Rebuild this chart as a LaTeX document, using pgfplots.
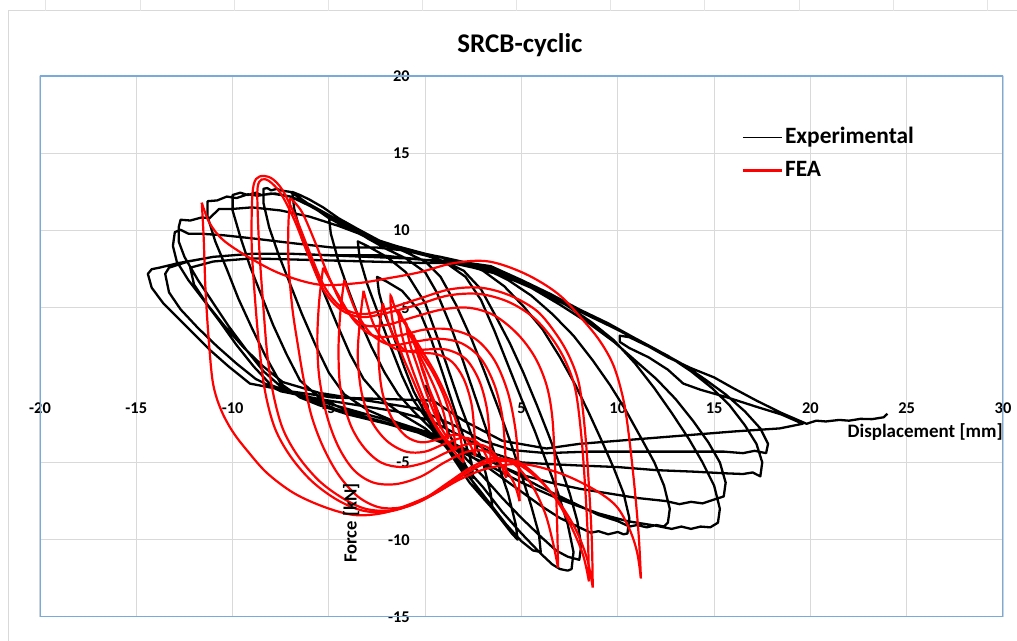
\documentclass[border=0pt]{standalone}
\usepackage{fontspec}
\setmainfont{Carlito}
\usepackage{pgfplots}
\pgfplotsset{compat=1.18}
\definecolor{gridgray}{RGB}{217,217,217}
\definecolor{boxblue}{RGB}{120,170,220}
\definecolor{fea}{RGB}{255,0,0}
\begin{document}
\begin{tikzpicture}
\path[use as bounding box] (0,0) rectangle (508.5pt,320.5pt);
\fill[white] (0,0) rectangle (508.5pt,320.5pt);
\draw[gridgray, line width=0.5pt] (4pt,0) -- (4pt,315pt) -- (508.5pt,315pt);
\foreach \cx in {22.5,70,117,164,211,258,305,352,399.5,446.5,493.5}
  \draw[gridgray!70, line width=0.4pt] (\cx pt,315pt) -- (\cx pt,320.5pt);
\begin{axis}[
  at={(20pt,12pt)}, anchor=south west,
  width=481.5pt, height=270.5pt, scale only axis,
  xmin=-20, xmax=30, ymin=-15, ymax=20,
  enlargelimits=false,
  axis lines=middle, axis line style={draw=none,-},
  hide obscured x ticks=false, hide obscured y ticks=false,
  xtick={-20,-15,-10,-5,0,5,10,15,20,25,30},
  xticklabels={-20,-15,-10,-5,0,5,10,15,20,25,30},
  ytick={-15,-10,-5,5,10,15,20},
  yticklabels={-15,-10,-5,5,10,15,20},
  major tick length=0pt,
  grid=major, grid style={draw=gridgray, line width=0.5pt},
  tick label style={font=\bfseries\fontsize{8.2}{9}\selectfont, inner sep=0pt},
  x tick label style={anchor=center, yshift=-11.5pt},
  y tick label style={anchor=east, xshift=-7.5pt},
  title={SRCB-cyclic},
  every axis title/.style={at={(rel axis cs:0.4984,1.0573)}, anchor=center, font=\bfseries\fontsize{13.5}{16}\selectfont},
  xlabel={Displacement [mm]},
  every axis x label/.style={at={(axis cs:25.96,-3.04)}, anchor=center, font=\bfseries\fontsize{9.5}{11}\selectfont},
  ylabel={Force [kN]},
  every axis y label/.style={at={(axis cs:-3.84,-8.93)}, anchor=center, rotate=90, font=\bfseries\fontsize{9.3}{11}\selectfont},
  legend style={at={(rel axis cs:0.728,0.911)}, anchor=north west, draw=none, fill=none, inner sep=0pt,
    font=\bfseries\fontsize{11.7}{14}\selectfont, row sep=3.5pt,
    nodes={text height=8.5pt, text depth=2.5pt, inner sep=1pt}},
  legend cell align=left,
]
% ---------------- Experimental ----------------
\addplot[black, line width=1.15pt, line join=round,
  legend image code/.code={\draw[black, line width=0.8pt] (0pt,0pt) -- (19.5pt,0pt);}] coordinates {
(0,0) (0.5,-1.3) (1,-2.6) (1.6,-4) (2.1,-5.2) (2.5,-6)
(2.4,-5) (2,-3.4) (1.5,-1.5) (0.9,0.8) (0.3,3) (-0.3,4.8) (-1.2,6.1) (-2,6.7) (-2.5,7)
(-2.4,6) (-2.1,4.6) (-1.6,3) (-1.1,1.2) (-0.6,-0.4) (0,-1.8)
(0.7,-3.2) (1.5,-4.8) (2.3,-6.3) (3,-7.3) (3.5,-8)
(3.4,-7) (3,-5) (2.4,-3.2) (1.8,-1.2) (1.2,1) (0.6,3.2) (0,5.3) (-1,7.3) (-2,8.3) (-3,9) (-3.5,9.3)
(-3.4,8.2) (-3,6.5) (-2.4,4.5) (-1.8,2.5) (-1.2,0.6) (-0.6,-1) (0.2,-2.4)
(1,-3.7) (2,-5.4) (3,-7.2) (4,-8.8) (4.5,-9.6) (4.8,-10)
(4.7,-9) (4.3,-7) (3.7,-4.8) (3.1,-2.6) (2.5,-0.4) (1.9,1.8) (1.3,3.9) (0.6,6) (0,7.3) (-1,8.2) (-2,8.8) (-3,9.5) (-4,10.3) (-4.6,10.7) (-5,10.9)
(-4.9,9.8) (-4.5,8) (-4,6.2) (-3.4,4.2) (-2.8,2.5) (-2.1,0.8) (-1.4,-0.6) (-0.6,-1.7) (0.3,-2.8)
(1.2,-4.2) (2.2,-5.8) (3.2,-7.4) (4.2,-9) (5,-10.1) (5.6,-10.7) (6,-10.8)
(5.9,-9.6) (5.5,-7.8) (5,-5.8) (4.4,-3.6) (3.8,-1.5) (3.1,0.8) (2.4,3) (1.6,5.2) (0.8,7) (0,8) (-1,8.6) (-2.3,9.3) (-3.5,10.1) (-4.5,10.8) (-5.3,11.5) (-6,12) (-6.5,12.3) (-6.9,12.5)
(-6.8,11.4) (-6.4,9.5) (-5.8,7.7) (-5.2,5.8) (-4.6,4) (-3.9,2) (-3.2,0.4) (-2.3,-0.9) (-1.2,-1.9) (0,-2.8)
(1,-3.9) (2,-5.2) (3,-6.6) (4,-8.2) (5,-9.6) (6,-10.9) (6.6,-11.6) (7,-11.9) (7.4,-12) (7.6,-11.9)
(7.7,-10.8) (7.4,-9) (6.9,-7) (6.3,-5) (5.7,-3) (5,-0.9) (4.3,1.3) (3.6,3.5) (2.9,5.5) (2.1,7) (1.2,7.8) (0.3,8.3) (-1,8.7) (-2.3,9.1) (-3.6,9.9) (-5,10.8) (-5.8,11.5) (-6.5,12.1) (-7,12.5) (-7.5,12.6) (-7.7,12.7) (-8,12.6) (-8.2,12.75) (-8.4,12.7)
(-8.4,11.8) (-8.1,10.2) (-7.6,8.4) (-7,6.5) (-6.4,4.6) (-5.7,2.6) (-5,0.8) (-4.2,-0.6) (-3,-1.6) (-1.5,-2.4) (0,-3) (1,-3.6)
(2,-4.6) (3,-5.9) (4,-7.3) (5,-8.6) (6,-9.8) (6.8,-10.7) (7.4,-11.1) (8,-11.3)
(8.1,-10.4) (7.9,-8.8) (7.5,-7) (7,-5.2) (6.4,-3.2) (5.8,-1.3) (5.1,0.8) (4.4,2.7) (3.6,4.6) (2.9,6.2) (2,7.4) (1,8) (0,8.4) (-1.2,8.8) (-2.3,9.2) (-3.6,10) (-5,10.9) (-6,11.6) (-7,12.2) (-7.8,12.4) (-8.5,12.3) (-8.8,12.45) (-9.2,12.3) (-9.6,12.45) (-10,12.3)
(-10,11.3) (-9.6,9.6) (-9.1,7.7) (-8.5,5.8) (-7.9,3.9) (-7.2,2) (-6.5,0.3) (-5.5,-0.8) (-4.5,-1.4) (-3,-2.1) (-1.5,-2.6) (0,-3.1)
(1,-3.6) (2,-4.3) (3,-5.1) (4,-6) (5,-6.9) (6,-7.8) (7,-8.6) (8,-9.2) (8.6,-9.55) (9,-9.45) (9.5,-9.65) (10,-9.5) (10.3,-9.65) (10.5,-9.6)
(10.6,-8.6) (10.3,-7) (9.8,-5.4) (9.2,-3.7) (8.5,-1.8) (7.8,0) (7,1.8) (6.1,3.6) (5.1,5.1) (4.1,6.4) (3,7.4) (1.8,8) (0.3,8.4) (-1,8.8) (-2.5,9.3) (-3.8,10.1) (-5,11) (-6,11.7) (-7,12.2) (-8,12.4) (-8.7,12.25) (-9.2,12.35) (-9.8,12.1) (-10.3,12.2) (-10.8,11.95) (-11.3,11.9)
(-11.3,10.9) (-10.9,9.3) (-10.3,7.5) (-9.7,5.6) (-9,3.7) (-8.3,1.9) (-7.5,0.1) (-6.5,-0.8) (-5.5,-1.3) (-4,-1.9) (-2,-2.5) (0,-3.2)
(1.5,-3.8) (3,-4.7) (4.5,-5.6) (6,-6.6) (7.5,-7.5) (9,-8.4) (10,-8.8) (10.6,-9.15) (11,-9.05) (11.5,-9.2) (12,-9.05) (12.4,-9.15) (12.6,-8.9)
(12.7,-8) (12.4,-6.5) (11.9,-5) (11.2,-3.4) (10.4,-1.6) (9.6,0) (8.7,1.6) (7.7,3.2) (6.6,4.6) (5.5,5.8) (4.3,6.8) (3,7.6) (1.5,8.1) (0,8.5) (-1.5,9) (-3,9.6) (-4.5,10.3) (-6,10.9) (-7.5,11.3) (-9,11.5) (-10,11.4) (-10.7,11.4) (-11.2,10.8) (-11.6,10.85) (-12.2,10.65) (-12.7,10.7) (-12.8,10.2)
(-12.8,9.3) (-12.5,8.3) (-11.8,6.8) (-11,5.3) (-10.2,3.8) (-9.3,2.3) (-8.4,0.9) (-7.4,-0.2) (-6,-1) (-4.5,-1.6) (-2.5,-2.3) (-0.5,-3)
(1,-3.8) (3,-5) (5,-6.3) (7,-7.4) (9,-8.3) (10.5,-8.8) (12,-9.1) (12.8,-9.3) (13.3,-9.15) (13.8,-9.3) (14.3,-9.15) (14.8,-9.2) (15.2,-8.9)
(15.3,-8) (15,-6.5) (14.4,-5) (13.7,-3.5) (12.8,-1.8) (11.9,-0.2) (10.9,1.4) (9.8,2.9) (8.6,4.1) (7.3,5.2) (5.8,6.2) (4.2,7.1) (2.6,7.8) (0.8,8.3) (-1,8.7) (-2.5,8.9) (-4.8,8.9) (-7,9.2) (-9,9.5) (-10.5,9.7) (-11.7,9.8) (-12.3,9.8) (-12.7,10.05) (-13,9.9)
(-13.1,9) (-12.9,8) (-12.3,6.8) (-11.5,5.5) (-10.6,4) (-9.8,2.6) (-8.9,1.2) (-8,0) (-6.5,-0.7) (-5,-1.2) (-3,-1.9) (-1,-2.6) (0.5,-3.2)
(2,-4.2) (3.5,-5) (5,-5.8) (6.5,-6.3) (8,-6.7) (9.5,-7) (11,-7.3) (12.5,-7.5) (13.2,-7.7) (13.8,-7.55) (14.4,-7.65) (15,-7.4) (15.5,-7.2)
(15.6,-6.3) (15.3,-5) (14.7,-3.7) (13.9,-2.3) (13,-0.9) (12,0.4) (10.9,1.6) (9.8,2.8) (8.5,4) (7,5.2) (5.5,6.3) (4,7.1) (2.5,7.6) (1,8) (-1,8.2) (-3,8.3) (-5,8.4) (-7,8.5) (-9,8.5) (-11,8.3) (-12.3,8) (-13.3,7.6) (-13.5,7.2)
(-13.3,6) (-12.7,4.9) (-11.8,3.7) (-10.8,2.5) (-9.8,1.4) (-8.8,0.4) (-7.5,-0.4) (-5.5,-0.9) (-3.5,-1.3) (-1.5,-1.7) (0.3,-2.3)
(2,-3.4) (3.5,-4.4) (5,-5) (6.3,-5.1) (8,-5.2) (10,-5.3) (12,-5.5) (14,-5.6) (15.5,-5.7) (16.5,-5.75) (17,-5.65) (17.4,-5.9)
(17.5,-5) (17.2,-3.8) (16.6,-2.6) (15.8,-1.3) (14.9,-0.2) (13.8,0.9) (12.6,1.9) (11.2,2.8) (9.8,3.7) (8.3,4.6) (6.8,5.6) (5.3,6.6) (3.6,7.5) (2,7.9) (0,7.9) (-3,8) (-6,8.1) (-9,8.2) (-11,8) (-12.2,7.6)
(-12,6.5) (-11.3,5.2) (-10.4,3.8) (-9.4,2.4) (-8.4,1.2) (-7.4,0.2) (-5.5,-0.5) (-3,-1) (-0.5,-1.5) (1.5,-2.6)
(3,-3.6) (4.5,-4.2) (6.3,-4.4) (8.5,-4.3) (11,-4.3) (13.5,-4.3) (15.5,-4.3) (16.5,-4.4) (17.1,-4.25) (17.7,-4.4)
(17.8,-3.8) (17.4,-2.8) (16.6,-1.7) (15.6,-0.6) (14.5,0.4) (13.3,1.4) (12,2.3) (10.8,3.1) (9.5,4) (8,4.9) (6.5,5.9) (5,6.8) (3.4,7.7) (1.7,8) (0,8.1) (-2.3,8.4) (-4.8,8.4) (-7,8.5) (-9,8.5) (-11,8.3) (-12.8,7.9) (-13.8,7.6) (-14.2,7.5) (-14.4,7.2)
(-14.2,6.3) (-13.6,5.3) (-12.8,4.3) (-12,3.3) (-11.2,2.3) (-10.2,1.2) (-9.1,0.1) (-7,-0.4) (-4.8,-0.8) (-2,-0.9) (0.4,-1) (2,-2.3) (4,-3.6) (6.3,-4.1) (8,-3.8) (10,-3.6) (12,-3.4) (14,-3.2) (16,-3) (18.4,-2.8) (19.6,-2.5)
(18.5,-1.9) (17.2,-1.4) (15.7,-0.8) (14.3,-0.3) (13.4,0.1) (12.6,1.0) (11.6,1.8) (10.6,2.4) (10.1,2.8) (10.1,3.2) (10.6,3.1) (11.6,2.5) (12.6,1.8) (13.8,1.1) (15,0.5) (16,-0.2) (17.2,-1.0) (18.5,-1.8) (19.8,-2.5)
(20.3,-2.3) (20.8,-2.35) (21.5,-2.25) (22,-2.3) (22.6,-2.18) (23.2,-2.2) (23.8,-2.08) (24,-1.85)
};
\addlegendentry{Experimental}
% ---------------- FEA ----------------
\addplot[fea, line width=1.1pt, smooth, tension=0.55,
  legend image code/.code={\draw[fea, line width=1.3pt] (0pt,0pt) -- (19.5pt,0pt);}] coordinates {
(11.2,-12.5) (11.1,-10) (10.9,-7) (10.6,-3.5) (10.3,-1) (9.8,1.2) (9.1,2.8) (8.2,4.2) (6.9,5.9) (5.2,7.2) (3.3,8.0) (1.5,7.9) (-0.3,7.3) (-2,6.9) (-3.5,6.6) (-5.5,6.5) (-7.5,7.2) (-9.2,8.3) (-10.5,9.4) (-11.2,10.5) (-11.6,11.8)};
\addlegendentry{FEA}
\addplot[fea, line width=1.1pt, smooth, tension=0.55, forget plot] coordinates {
(-11.6,11.8) (-11.5,9.5) (-11.4,6) (-11.2,2.3) (-11,0) (-10.6,-1.6) (-10,-3) (-9.2,-4.3) (-8.2,-5.7) (-6.8,-7) (-5.2,-7.9) (-3.7,-8.4) (-2.3,-8.3) (-1,-7.8) (0.5,-7) (1.8,-6.1) (3.2,-5.4) (5,-5.1) (7,-5.7) (8.7,-6.7) (9.9,-7.8) (10.6,-9.3) (11,-10.8) (11.2,-12.5)};
% R2
\addplot[fea, line width=1.1pt, smooth, tension=0.55, forget plot] coordinates {
(8.7,-13.1) (8.65,-10) (8.5,-6.5) (8.3,-3) (8,0) (7.5,1.8) (6.8,3.3) (5.8,4.8) (4.4,5.8) (2.9,6.3) (1.3,6.2) (-0.3,5.6) (-1.8,5) (-3.2,4.6) (-4.3,5) (-5.2,6.3) (-6,8.6) (-6.7,10.8) (-7.4,12.6) (-8,13.4) (-8.6,13.5) (-8.9,13) (-9.0,11.5) (-9,8.7) (-8.8,5) (-8.6,2.3) (-8.3,-0.5) (-7.8,-2.8) (-7,-4.6) (-5.9,-6.2) (-4.6,-7.4) (-3.3,-8.1) (-2,-8.2) (-0.6,-7.7) (0.8,-6.8) (2,-5.8) (3.3,-5) (4.6,-5) (5.8,-6) (6.9,-7.5) (7.8,-9.3) (8.4,-11.2) (8.7,-13.1)};
% R2b
\addplot[fea, line width=1.1pt, smooth, tension=0.55, forget plot] coordinates {
(8.5,-12.7) (8.45,-10) (8.3,-6.5) (8.1,-3.2) (7.8,-0.3) (7.3,1.5) (6.6,3) (5.6,4.4) (4.3,5.4) (2.8,5.9) (1.2,5.8) (-0.4,5.2) (-1.9,4.7) (-3.3,4.4) (-4.4,4.9) (-5.3,6.2) (-6.1,8.5) (-6.8,10.7) (-7.5,12.4) (-8.1,13.2) (-8.5,13.3) (-8.7,12.8) (-8.7,11.3) (-8.6,8.5) (-8.4,5) (-8.2,2) (-7.9,-0.5) (-7.4,-2.8) (-6.6,-4.6) (-5.5,-6.2) (-4.3,-7.3) (-3.1,-8.0) (-1.8,-8.1) (-0.4,-7.6) (0.9,-6.7) (2.1,-5.7) (3.4,-4.9) (4.7,-4.9) (5.8,-5.9) (6.8,-7.4) (7.6,-9.2) (8.2,-11) (8.5,-12.7)};
% R3
\addplot[fea, line width=1.1pt, smooth, tension=0.55, forget plot] coordinates {
(6.9,-11.8) (6.85,-9) (6.75,-5.5) (6.6,-2.1) (6.3,0) (5.7,1.8) (4.8,3.3) (3.6,4.5) (2.3,5.0) (0.9,4.9) (-0.6,4.4) (-2,3.9) (-3.2,3.9) (-4.2,5) (-5,7) (-5.7,9.2) (-6.4,11.2) (-7,12.1)};
\addplot[fea, line width=1.1pt, smooth, tension=0.55, forget plot] coordinates {
(-7,12.1) (-7.1,10.5) (-7.1,8) (-6.9,5) (-6.6,2.5) (-6.3,0.3) (-5.9,-2) (-5.3,-4) (-4.5,-5.8) (-3.5,-7.2) (-2.4,-7.9) (-1.2,-7.9) (0,-7.3) (1.2,-6.3) (2.4,-5.3) (3.6,-4.7) (4.6,-5.1) (5.5,-6.4) (6.2,-8.2) (6.6,-10) (6.9,-11.8)};
% R4
\addplot[fea, line width=1.1pt, smooth, tension=0.55, forget plot] coordinates {
(4.9,-7.5) (4.85,-5.5) (4.7,-3) (4.3,-0.5) (3.6,1.6) (2.6,3) (1.3,3.6) (0,3.6) (-1.4,3.2) (-2.7,3.2) (-3.7,4.2) (-4.5,5.8) (-5.3,7.6)};
\addplot[fea, line width=1.1pt, smooth, tension=0.55, forget plot] coordinates {
(-5.3,7.6) (-5.5,5.5) (-5.6,3) (-5.5,0.5) (-5.1,-2) (-4.5,-4) (-3.7,-5.5) (-2.7,-6.3) (-1.5,-6.4) (-0.2,-5.9) (1,-5) (2.2,-4.3) (3.2,-4.3) (4,-5.2) (4.6,-6.3) (4.9,-7.5)};
% R5
\addplot[fea, line width=1.1pt, smooth, tension=0.55, forget plot] coordinates {
(4.2,-6) (4.15,-4.2) (4,-2) (3.6,0) (2.9,1.7) (1.9,2.7) (0.7,3) (-0.6,2.8) (-1.8,2.6) (-2.8,3.3) (-3.6,4.8) (-4.2,6.8)};
\addplot[fea, line width=1.1pt, smooth, tension=0.55, forget plot] coordinates {
(-4.2,6.8) (-4.4,4.8) (-4.5,2.3) (-4.4,-0.2) (-3.9,-2.5) (-3.2,-4) (-2.3,-5) (-1.2,-5.3) (0,-5) (1.2,-4.3) (2.3,-3.8) (3.2,-4) (3.8,-4.8) (4.2,-6)};
% R6
\addplot[fea, line width=1.1pt, smooth, tension=0.55, forget plot] coordinates {
(3.4,-5.2) (3.35,-3.5) (3.2,-1.5) (2.8,0.3) (2.1,1.7) (1.1,2.3) (0,2.3) (-1.1,2.2) (-2,2.7) (-2.7,4) (-3.2,6.1)};
\addplot[fea, line width=1.1pt, smooth, tension=0.55, forget plot] coordinates {
(-3.2,6.1) (-3.4,4) (-3.5,1.8) (-3.3,-0.5) (-2.8,-2.3) (-2,-3.6) (-1,-4.3) (0,-4.3) (1,-3.8) (2,-3.4) (2.8,-3.8) (3.4,-5.2)};
% R7
\addplot[fea, line width=1.1pt, smooth, tension=0.55, forget plot] coordinates {
(2.6,-4.6) (2.55,-3) (2.4,-1.2) (2,0.4) (1.4,1.5) (0.6,2) (-0.3,2.1) (-1.1,2.3) (-1.7,3.3) (-2.2,5.3)};
\addplot[fea, line width=1.1pt, smooth, tension=0.55, forget plot] coordinates {
(-2.2,5.3) (-2.4,3.4) (-2.4,1.3) (-2.2,-0.6) (-1.7,-2.2) (-1,-3.3) (-0.2,-3.7) (0.7,-3.5) (1.6,-3.2) (2.2,-3.6) (2.6,-4.6)};
% central narrow loops
\addplot[fea, line width=1.1pt, smooth, tension=0.55, forget plot] coordinates {
(1.6,-4.2) (1.4,-2.5) (1,-0.8) (0.4,0.8) (-0.2,2) (-0.7,3.2) (-1.1,4.1) (-1.4,4.8) (-1.2,3.2) (-0.8,1.5) (-0.3,-0.2) (0.2,-1.7) (0.7,-2.9) (1.2,-3.7) (1.6,-4.2)};
\addplot[fea, line width=1.1pt, smooth, tension=0.55, forget plot] coordinates {
(1.2,-3.5) (1,-2) (0.6,-0.5) (0.1,0.9) (-0.4,2.2) (-0.8,3.3) (-1,4) (-0.8,2.7) (-0.4,1.2) (0,-0.3) (0.4,-1.6) (0.8,-2.7) (1.2,-3.5)};
\addplot[fea, line width=1.1pt, smooth, tension=0.55, forget plot] coordinates {
(0.8,-2.8) (0.6,-1.5) (0.2,-0.2) (-0.2,1.2) (-0.6,3.2) (-0.4,2) (0,0.6) (0.3,-0.7) (0.6,-1.9) (0.8,-2.8)};
\addplot[fea, line width=1.1pt, smooth, tension=0.55, forget plot] coordinates {
(2,-5) (1.8,-3.2) (1.3,-1.3) (0.6,0.6) (-0.2,2.3) (-0.9,3.7) (-1.5,4.8) (-1.8,5.8) (-1.7,4.2) (-1.3,2.3) (-0.7,0.5) (-0.1,-1.2) (0.6,-2.8) (1.3,-4) (2,-5)};
% plot area border
\draw[boxblue, line width=0.6pt] (rel axis cs:0,0) rectangle (rel axis cs:1,1);
\end{axis}
\end{tikzpicture}
\end{document}
